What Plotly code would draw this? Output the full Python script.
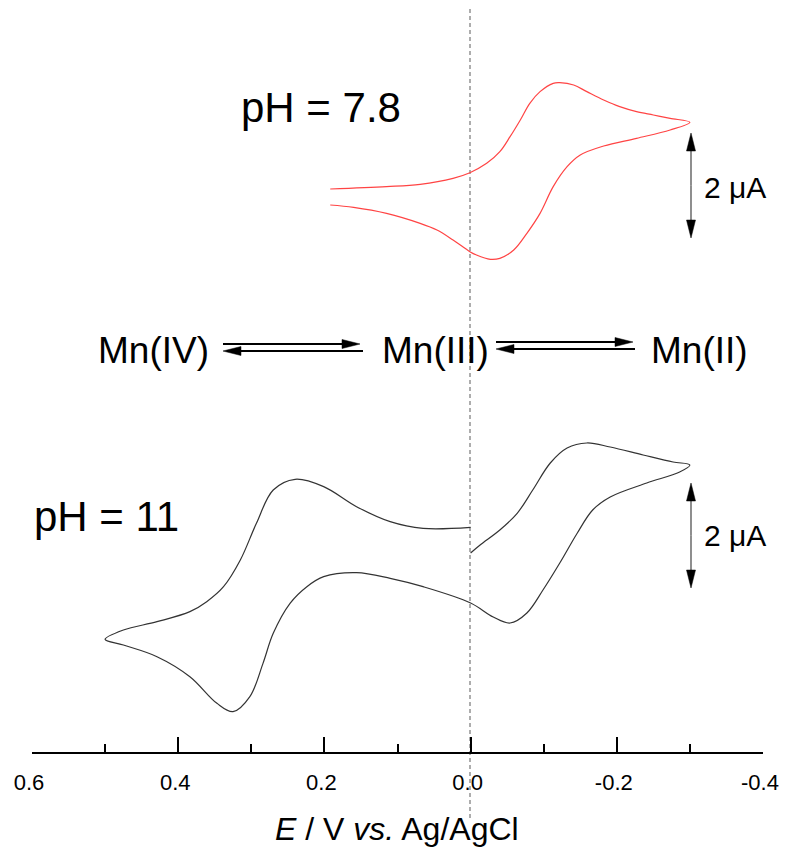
import math
import plotly.graph_objects as go

# ---------------- data (E in V vs Ag/AgCl, current in uA relative to each trace's baseline)
red_E = [0.192, 0.115, 0.069, 0.024, 0.001, -0.022, -0.040, -0.054, -0.068, -0.081,
         -0.095, -0.113, -0.122, -0.141, -0.159, -0.182, -0.204, -0.227, -0.250, -0.273,
         -0.300, -0.273, -0.227, -0.182, -0.150, -0.132, -0.113, -0.095, -0.077, -0.059,
         -0.040, -0.027, -0.008, 0.001, 0.024, 0.046, 0.069, 0.115, 0.160, 0.192]
red_I = [0.229, 0.278, 0.326, 0.451, 0.569, 0.764, 1.007, 1.319, 1.667, 2.014,
         2.257, 2.431, 2.444, 2.396, 2.257, 2.083, 1.944, 1.840, 1.771, 1.701,
         1.618, 1.458, 1.285, 1.125, 0.938, 0.694, 0.278, -0.278, -0.694, -1.042,
         -1.215, -1.236, -1.146, -1.076, -0.833, -0.625, -0.486, -0.278, -0.153, -0.104]

black_E = [0.000, -0.013, -0.040, -0.064, -0.085, -0.109, -0.132, -0.159, -0.191, -0.236,
           -0.277, -0.300, -0.286, -0.241, -0.191, -0.167, -0.146, -0.122, -0.099, -0.077,
           -0.054, -0.031, 0.000, 0.065, 0.110, 0.156, 0.201, 0.224, 0.247, 0.270,
           0.284, 0.302, 0.325, 0.347, 0.384, 0.429, 0.475, 0.500, 0.475, 0.429,
           0.384, 0.361, 0.338, 0.315, 0.293, 0.270, 0.240, 0.201, 0.156, 0.110,
           0.065, 0.000]
black_I = [0.146, 0.313, 0.625, 0.979, 1.458, 2.021, 2.333, 2.438, 2.354, 2.188,
           2.042, 1.979, 1.833, 1.604, 1.313, 1.042, 0.563, -0.063, -0.625, -1.104,
           -1.313, -1.188, -0.896, -0.556, -0.382, -0.264, -0.347, -0.556, -0.903, -1.528,
           -2.153, -2.847, -3.160, -2.986, -2.431, -2.014, -1.771, -1.653, -1.458, -1.285,
           -1.076, -0.868, -0.556, 0.000, 0.764, 1.458, 1.681, 1.528, 1.111, 0.799,
           0.660, 0.681]

tick_vals = [0.6, 0.4, 0.2, 0.0, -0.2, -0.4]
tick_text = ["0.6", "0.4", "0.2", "0.0", "-0.2", "-0.4"]
minor_vals = [0.5, 0.3, 0.1, -0.1, -0.3]

labels_ph = ["pH = 7.8", "pH = 11"]
species = ["Mn(IV)", "Mn(III)", "Mn(II)"]
scale_label = "2 \u03bcA"

# vertical stacking offsets (uA) of the two voltammograms
red_offset = 11.5
black_offset = 4.0

FONT = "Liberation Sans"

# ---------------- geometry (page body has an 8px margin)
OFF = 8
W, H = 779, 845
L, R, T, B = 24, 24, 0, 101
PW, PH = W - L - R, H - T - B


def px(x):  # page pixel x -> paper
    return (x - OFF - L) / PW


def py(y):  # page pixel y -> paper
    return (H - B - (y - OFF)) / PH


fig = go.Figure()
fig.add_trace(go.Scatter(x=red_E, y=[v + red_offset for v in red_I], mode="lines",
                         line=dict(color="#ff4444", width=1.2, shape="spline", smoothing=1.0),
                         hoverinfo="skip"))
fig.add_trace(go.Scatter(x=black_E, y=[v + black_offset for v in black_I], mode="lines",
                         line=dict(color="#333333", width=1.2, shape="spline", smoothing=1.0),
                         hoverinfo="skip"))

shapes = []
# dashed zero-potential line
shapes.append(dict(type="line", xref="paper", yref="paper", x0=px(470), x1=px(470),
                   y0=py(818), y1=1.0, line=dict(color="#777777", width=1.2, dash="4px,3px"),
                   layer="below"))


def arrow(x0, y0, x1, y1, color, lw, hl, hw):
    """line from (x0,y0) to tip (x1,y1) in page pixels with a filled triangular head"""
    dx, dy = x1 - x0, y1 - y0
    n = math.hypot(dx, dy)
    ux, uy = dx / n, dy / n
    bx, by = x1 - ux * hl, y1 - uy * hl
    nx, ny = -uy, ux
    shapes.append(dict(type="line", xref="paper", yref="paper",
                       x0=px(x0), y0=py(y0), x1=px(bx + ux * 2), y1=py(by + uy * 2),
                       line=dict(color=color, width=lw)))
    path = (f"M{px(x1)},{py(y1)} L{px(bx + nx * hw)},{py(by + ny * hw)} "
            f"L{px(bx - nx * hw)},{py(by - ny * hw)} Z")
    shapes.append(dict(type="path", xref="paper", yref="paper", path=path,
                       fillcolor="black", line=dict(color="black", width=0.5)))


# equilibrium arrows
arrow(223, 344, 360, 344, "black", 2, 18, 4.5)
arrow(363, 351, 223, 351, "black", 2, 18, 4.5)
arrow(496, 342, 633, 342, "black", 2, 18, 4.5)
arrow(635, 349, 496, 349, "black", 2, 18, 4.5)


# 2 uA scale bars (double headed)
def dbl(xc, ytop, ybot):
    ym = (ytop + ybot) / 2
    arrow(xc, ym, xc, ytop, "#444444", 1.2, 18, 4.5)
    arrow(xc, ym, xc, ybot, "#444444", 1.2, 18, 4.5)


dbl(691, 133, 238)
dbl(691, 483, 588)

ann = []


def text(t, x, y, size):
    ann.append(dict(text=t, xref="paper", yref="paper", x=px(x), y=py(y),
                    xanchor="center", yanchor="middle", showarrow=False,
                    font=dict(family=FONT, size=size, color="black")))


text(labels_ph[0], 321, 107, 42)
text(labels_ph[1], 106, 516, 42)
text(species[0], 153, 350, 37)
text(species[1], 435, 350, 37)
text(species[2], 699, 350, 37)
text(scale_label, 735, 187, 30)
text(scale_label, 735, 535, 30)
text("<i>E</i> / V <i>vs.</i> Ag/AgCl", 397, 829, 32)

fig.update_layout(
    width=W, height=H,
    margin=dict(l=L, r=R, t=T, b=B, pad=0),
    plot_bgcolor="white", paper_bgcolor="white",
    showlegend=False,
    shapes=shapes, annotations=ann,
    xaxis=dict(range=[0.6, -0.4], showline=True, linecolor="black", linewidth=2,
               ticks="inside", ticklen=15, tickwidth=2, tickcolor="black",
               tickmode="array", tickvals=tick_vals, ticktext=tick_text,
               tickfont=dict(family=FONT, size=22, color="black"),
               ticklabelstandoff=10, ticklabelshift=3, ticklabeloverflow="allow",
               showgrid=False, zeroline=False, fixedrange=True,
               minor=dict(ticks="inside", ticklen=8, tickwidth=2, tickcolor="black",
                          tickvals=minor_vals, showgrid=False)),
    yaxis=dict(visible=False, range=[0, PH / 48.0], fixedrange=True, showgrid=False,
               zeroline=False),
)

fig.write_html("out.html")
